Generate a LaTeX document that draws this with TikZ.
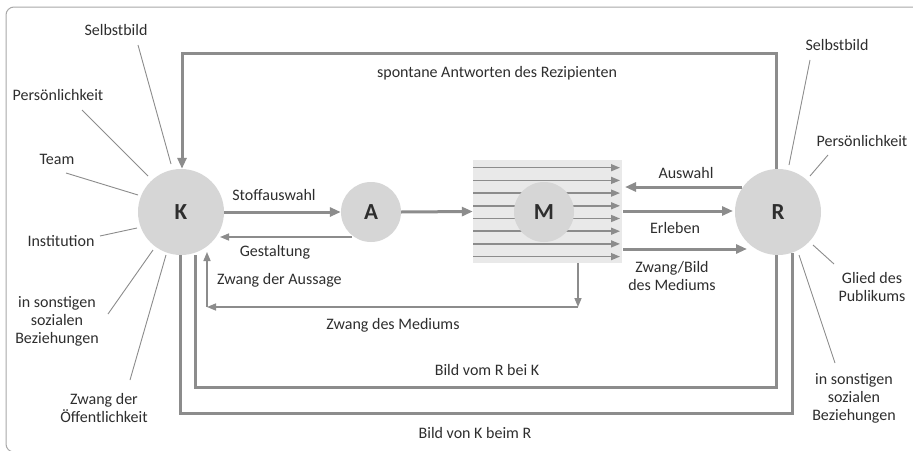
\documentclass[tikz,border=0pt]{standalone}
\usepackage{fontspec}
\setmainfont{Carlito}
\usetikzlibrary{arrows.meta}
\definecolor{ln}{HTML}{8C8C8C}
\definecolor{circ}{HTML}{D6D6D6}
\definecolor{boxf}{HTML}{E9E9E9}
\definecolor{txt}{HTML}{2E2E2E}
\definecolor{frm}{HTML}{A8A8A8}
\tikzset{
  thick line/.style={draw=ln, line width=3pt},
  thin line/.style={draw=ln, line width=1.5pt},
  label line/.style={draw=ln, line width=0.9pt},
  big arrow/.style={thick line, -{Triangle[length=11pt,width=9pt]}},
  small arrow/.style={thin line, -{Triangle[length=9pt,width=7pt]}},
  box arrow/.style={draw=ln, line width=1.5pt, -{Triangle[length=9pt,width=7pt]}},
  bignode/.style={circle, fill=circ, minimum size=86pt, inner sep=0pt, font=\fontsize{23}{23}\selectfont\bfseries, text=txt},
  smallnode/.style={circle, fill=circ, minimum size=60pt, inner sep=0pt, font=\fontsize{23}{23}\selectfont\bfseries, text=txt},
  lbl/.style={font=\fontsize{16}{18}\selectfont, text=txt, align=center, inner sep=0pt},
}
\begin{document}
\begin{tikzpicture}[x=1pt,y=-1pt]
\useasboundingbox (0,0) rectangle (913,450);
\fill[white] (0,0) rectangle (913,450);
\draw[frm, line width=1pt, rounded corners=8pt] (6,7) rectangle (980,452);

% media box
\node[draw=none, fill=boxf, minimum width=149pt, minimum height=103pt, inner sep=0pt] (box) at (547.5,211.5) {};
\foreach \yy [count=\i] in {167.7,180.4,193.1,205.8,218.5,231.2,243.9,256.6} {
  \coordinate (bl\i) at (473,\yy);
  \coordinate (br\i) at (620,\yy);
  \draw[box arrow] (bl\i) -- (br\i);
}
\node[smallnode] (M) at (544,212) {M};

% main nodes
\node[bignode] (K) at (181,212) {K};
\node[smallnode] (A) at (371,212) {A};
\node[bignode] (R) at (778,212) {R};

% coordinates for loops
\coordinate (topR) at (776,53);
\coordinate (topK) at (182,53);
\coordinate (kA) at (207,307);
\coordinate (mD) at (578,307);
\coordinate (b1L) at (195,387);
\coordinate (b1R) at (776,387);
\coordinate (b2L) at (180,413);
\coordinate (b2R) at (792,413);

% top loop
\draw[big arrow] (R.north -| topR) -- (topR) -- (topK) -- (K.north -| topK);
\node[lbl] (spont) at (497,73) {spontane Antworten des Rezipienten};

% K <-> A
\draw[big arrow] (K.east) -- (A.west);
\node[lbl] (stoff) at (274,195) {Stoffauswahl};
\draw[small arrow] (352,237) coordinate (aG) -- (220,237) coordinate (kG);
\node[lbl] (gest) at (275,252) {Gestaltung};

% A -> M
\draw[big arrow] (A.east) -- (box.west);

% Zwang des Mediums / der Aussage
\draw[small arrow] (box.south -| mD) -- (mD);
\draw[small arrow] (mD) -- (kA);
\draw[small arrow] (kA) -- (207,252) coordinate (kZ);
\node[lbl, anchor=west] (za) at (217,280) {Zwang der Aussage};
\node[lbl] (zm) at (393,325) {Zwang des Mediums};

% bottom loops
\draw[thick line] (K.south -| b1L) -- (b1L) -- (b1R) -- (R.south -| b1R);
\node[lbl] (bild1) at (487,370) {Bild vom R bei K};
\draw[thick line] (K.south -| b2L) -- (b2L) -- (b2R) -- (792,253);
\node[lbl] (bild2) at (475,433) {Bild von K beim R};

% M <-> R
\draw[big arrow] (742,187) -- (625,187);
\node[lbl] (ausw) at (686,173) {Auswahl};
\draw[big arrow] (623,211) -- (733,211);
\node[lbl] (erl) at (675,228) {Erleben};
\draw[big arrow] (623,249) -- (747,249);
\node[lbl] (zb) at (672,276) {Zwang/Bild\\des Mediums};

% left labels
\node[lbl] (l1) at (116,30) {Selbstbild};
\draw[label line] (138,45) -- (171,164);
\node[lbl] (l2) at (58,95) {Persönlichkeit};
\draw[label line] (82,110) -- (148,176);
\node[lbl] (l3) at (57,159) {Team};
\draw[label line] (66,173) -- (138,195);
\node[lbl] (l4) at (61,241) {Institution};
\draw[label line] (100,236) -- (137,228);
\node[lbl] (l5) at (57,321) {in sonstigen\\sozialen\\Beziehungen};
\draw[label line] (108,314) -- (153,250);
\node[lbl] (l6) at (104,408) {Zwang der\\Öffentlichkeit};
\draw[label line] (130,380) -- (166,255);

% right labels
\node[lbl] (r1) at (837,45) {Selbstbild};
\draw[label line] (810,60) -- (789,165);
\node[lbl] (r2) at (862,141) {Persönlichkeit};
\draw[label line] (828,155) -- (810,176);
\node[lbl] (r3) at (872,287) {Glied des\\Publikums};
\draw[label line] (834,264) -- (813,245);
\node[lbl] (r4) at (854,398) {in sonstigen\\sozialen\\Beziehungen};
\draw[label line] (835,363) -- (799,255);
\end{tikzpicture}
\end{document}
